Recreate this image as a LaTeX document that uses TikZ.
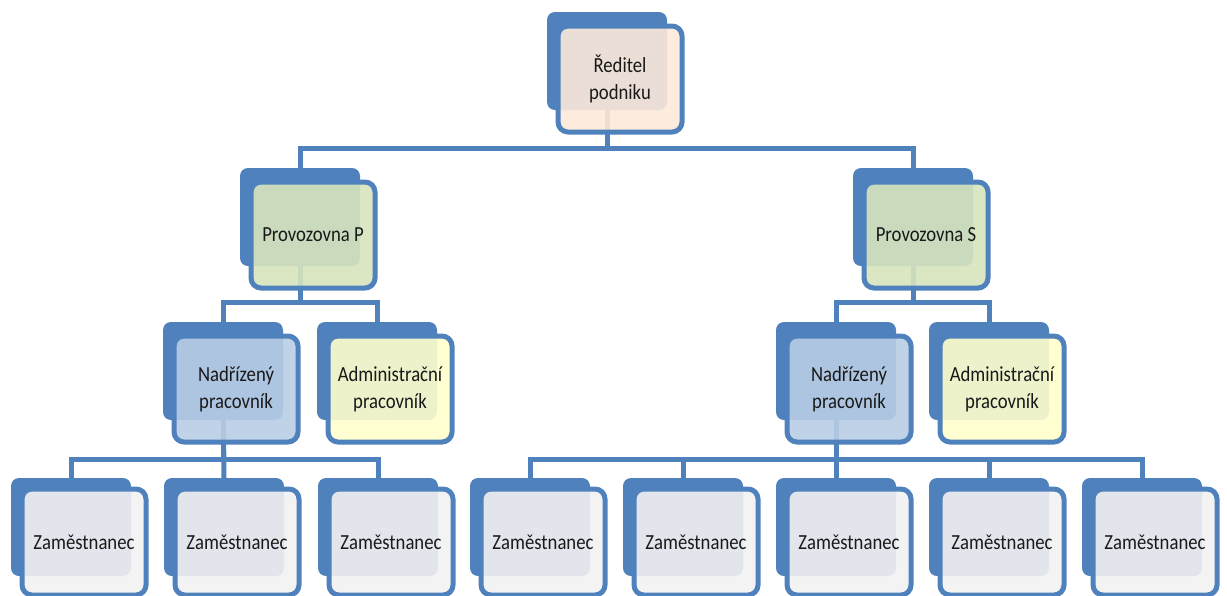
\documentclass[tikz,border=0pt]{standalone}
\usepackage{fontspec}
\setmainfont[FakeStretch=0.87]{Carlito}
\usetikzlibrary{backgrounds}
\definecolor{ocblue}{HTML}{4F81BD}
\definecolor{ocpeach}{HTML}{FDE9D9}
\definecolor{ocgreen}{HTML}{D7E4BD}
\definecolor{oclblue}{HTML}{B9CDE5}
\definecolor{ocyellow}{HTML}{FFFFCC}
\definecolor{ocgrey}{HTML}{F2F2F2}
\begin{document}
\begin{tikzpicture}[
    x=1pt, y=-1pt,
    back/.style={fill=ocblue, rounded corners=8pt, minimum width=120pt, minimum height=98pt, inner sep=0pt},
    front/.style={draw=ocblue, line width=5pt, rounded corners=10pt, fill opacity=0.9, text opacity=1,
        minimum width=124pt, minimum height=106pt, inner sep=0pt, align=center, text=black!90,
        font=\fontsize{21.5}{27}\selectfont},
    conn/.style={draw=ocblue, line width=5pt}
]
    \useasboundingbox (0,0) rectangle (1227,595);

    % Top
    \node[back] (r0) at (607,61) {};
    \node[front, fill=ocpeach] (r) at (620,79) {Ředitel\\podniku};

    % Two branches
    \node[back] (pp0) at (300,217) {};
    \node[front, fill=ocgreen] (pp) at (313,235) {Provozovna P};
    \node[back] (ps0) at (913,217) {};
    \node[front, fill=ocgreen] (ps) at (926,235) {Provozovna S};

    % Staff of P
    \node[back] (np0) at (223,371) {};
    \node[front, fill=oclblue] (np) at (236,389) {Nadřízený\\pracovník};
    \node[back] (adp0) at (377,371) {};
    \node[front, fill=ocyellow] (adp) at (390,389) {Administrační\\pracovník};

    % Staff of S
    \node[back] (ns0) at (836,371) {};
    \node[front, fill=oclblue] (ns) at (849,389) {Nadřízený\\pracovník};
    \node[back] (ads0) at (989,371) {};
    \node[front, fill=ocyellow] (ads) at (1002,389) {Administrační\\pracovník};

    % Employees
    \node[back] (z10) at (71,527) {};
    \node[front, fill=ocgrey] (z1) at (84,542) {Zaměstnanec};
    \node[back] (z20) at (224,527) {};
    \node[front, fill=ocgrey] (z2) at (237,542) {Zaměstnanec};
    \node[back] (z30) at (378,527) {};
    \node[front, fill=ocgrey] (z3) at (391,542) {Zaměstnanec};
    \node[back] (z40) at (530,527) {};
    \node[front, fill=ocgrey] (z4) at (543,542) {Zaměstnanec};
    \node[back] (z50) at (683,527) {};
    \node[front, fill=ocgrey] (z5) at (696,542) {Zaměstnanec};
    \node[back] (z60) at (836,527) {};
    \node[front, fill=ocgrey] (z6) at (849,542) {Zaměstnanec};
    \node[back] (z70) at (989,527) {};
    \node[front, fill=ocgrey] (z7) at (1002,542) {Zaměstnanec};
    \node[back] (z80) at (1142,527) {};
    \node[front, fill=ocgrey] (z8) at (1155,542) {Zaměstnanec};

    % Connectors
    \coordinate (bus0) at (0,148);
    \coordinate (bus1) at (0,302);
    \coordinate (bus2) at (0,459);
    \begin{scope}[on background layer]
        \draw[conn] (r0) |- (pp0 |- bus0) -- (pp0.north);
        \draw[conn] (r0) |- (ps0 |- bus0) -- (ps0.north);
        \draw[conn] (pp0) |- (np0 |- bus1) -- (np0.north);
        \draw[conn] (pp0) |- (adp0 |- bus1) -- (adp0.north);
        \draw[conn] (ps0) |- (ns0 |- bus1) -- (ns0.north);
        \draw[conn] (ps0) |- (ads0 |- bus1) -- (ads0.north);
        \draw[conn] (np0) |- (z10 |- bus2) -- (z10.north);
        \draw[conn] (np0) -- (z20.north);
        \draw[conn] (np0) |- (z30 |- bus2) -- (z30.north);
        \draw[conn] (ns0) |- (z40 |- bus2) -- (z40.north);
        \draw[conn] (ns0) |- (z50 |- bus2) -- (z50.north);
        \draw[conn] (ns0) -- (z60.north);
        \draw[conn] (ns0) |- (z70 |- bus2) -- (z70.north);
        \draw[conn] (ns0) |- (z80 |- bus2) -- (z80.north);
    \end{scope}
\end{tikzpicture}
\end{document}
